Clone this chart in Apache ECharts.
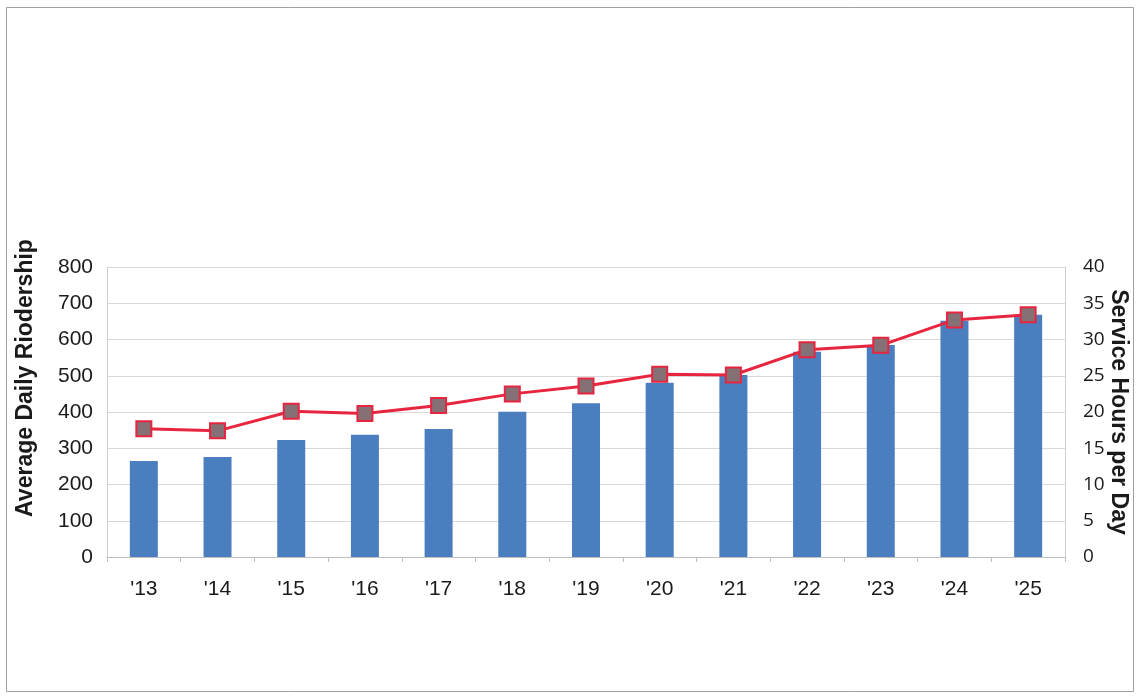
<!DOCTYPE html>
<html>
<head>
<meta charset="utf-8">
<script src="https://cdn.jsdelivr.net/npm/echarts@6/dist/echarts.min.js"></script>
<style>
html,body{margin:0;padding:0;background:#fff;}
#c{width:1139px;height:698px;}
</style>
</head>
<body>
<div id="c"></div>
<script>
var categories = ["'13","'14","'15","'16","'17","'18","'19","'20","'21","'22","'23","'24","'25"];
var ridership = [265, 276, 323, 337, 353, 401, 424, 481, 502, 566, 585, 652, 668];
var serviceHours = [17.7, 17.4, 20.1, 19.8, 20.9, 22.5, 23.6, 25.2, 25.1, 28.6, 29.2, 32.7, 33.4];
var leftAxisName = 'Average Daily Riodership';
var rightAxisName = 'Service Hours per Day';

var chart = echarts.init(document.getElementById('c'));
var font = '"Liberation Sans", Arial, sans-serif';
var font2 = '"Open Sans", "Noto Sans", sans-serif';
chart.setOption({
  animation: false,
  backgroundColor: '#fff',
  graphic: [{
    type: 'rect',
    shape: {x: 6.5, y: 7.5, width: 1127, height: 684},
    style: {fill: 'none', stroke: '#a0a0a0', lineWidth: 1}
  }],
  grid: {left: 107, right: 74, top: 267, bottom: 141, containLabel: false, outerBoundsMode: 'none'},
  xAxis: {
    type: 'category',
    data: categories,
    axisLine: {lineStyle: {color: '#bfbfbf'}},
    axisTick: {show: true, length: 5, lineStyle: {color: '#bfbfbf'}},
    axisLabel: {color: '#1a1a1a', fontSize: 21, fontFamily: font, margin: 22}
  },
  yAxis: [{
    type: 'value', min: 0, max: 800, interval: 100,
    name: leftAxisName, nameLocation: 'middle', nameGap: 70,
    nameTextStyle: {color: '#1a1a1a', fontSize: 23, fontWeight: 'bold', fontFamily: font, padding: [0,0,0,68]},
    axisLine: {show: true, lineStyle: {color: '#d0d0d0'}},
    axisTick: {show: false},
    splitLine: {lineStyle: {color: '#d9d9d9'}},
    axisLabel: {color: '#1a1a1a', fontSize: 21, fontFamily: font, margin: 14}
  }, {
    type: 'value', min: 0, max: 40, interval: 5,
    name: rightAxisName, nameLocation: 'middle', nameGap: 42, nameRotate: -90,
    nameMoveOverlap: false,
    nameTextStyle: {color: '#1a1a1a', fontSize: 23, fontWeight: 'bold', fontFamily: font},
    axisLine: {show: true, lineStyle: {color: '#d0d0d0'}},
    axisTick: {show: false},
    splitLine: {show: false},
    axisLabel: {color: '#1a1a1a', fontSize: 19, fontFamily: font2, margin: 18}
  }],
  series: [{
    type: 'bar',
    data: ridership,
    yAxisIndex: 0,
    barWidth: 28,
    itemStyle: {color: '#4a7ebf'}
  }, {
    type: 'line',
    data: serviceHours,
    yAxisIndex: 1,
    symbol: 'rect',
    symbolSize: 15,
    lineStyle: {color: '#e8253f', width: 3},
    itemStyle: {color: '#857076', borderColor: '#e8253f', borderWidth: 2}
  }]
});
</script>
</body>
</html>
